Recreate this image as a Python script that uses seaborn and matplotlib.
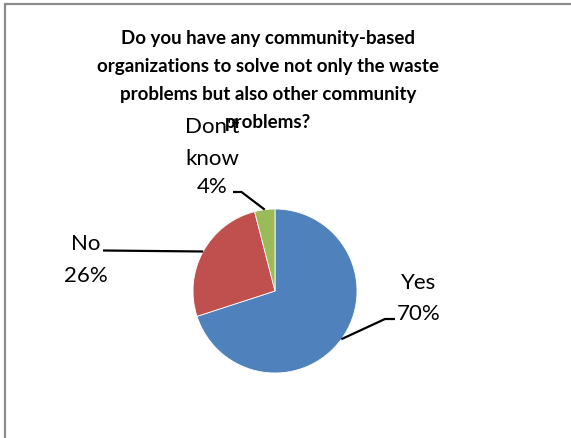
import matplotlib
matplotlib.use("Agg")
import matplotlib.pyplot as plt
import seaborn as sns
import numpy as np
from matplotlib.lines import Line2D

# ---- data ----
categories = ["Yes", "No", "Don't know"]
percents = [70, 26, 4]
colors = ["#4F81BD", "#C0504D", "#9BBB59"]
title_lines = ["Do you have any community-based",
               "organizations to solve not only the waste",
               "problems but also other community",
               "problems?"]

sns.set_theme(style="white")
plt.rcParams['font.family'] = ['Lato', 'DejaVu Sans']

W, H = 571, 439
fig = plt.figure(figsize=(W / 100, H / 100), dpi=100)
ax = fig.add_axes([0, 0, 1, 1])

cx, cy, r = 275, H - 292, 82
wedges, _ = ax.pie(percents, colors=sns.color_palette(colors), startangle=90,
                   counterclock=False, center=(cx, cy), radius=r,
                   wedgeprops=dict(edgecolor="white", linewidth=0.6))
ax.set_xlim(0, W)
ax.set_ylim(0, H)
ax.set_aspect("equal")
ax.axis("off")

# label layout (pixel positions measured from top): text center x, baselines, leader path
layout = {
    "Yes": dict(x=419, base=[289, 320], path=[(385, 320), (395, 320)]),
    "No": dict(x=86, base=[250, 282], path=[(103, 251.5)]),
    "Don't know": dict(x=212, base=[133, 165, 193], path=[(241.5, 193), (233, 193)]),
}
lab_fs = 16
for w, cat, p in zip(wedges, categories, percents):
    mid = np.deg2rad((w.theta1 + w.theta2) / 2)
    ex, ey = cx + r * np.cos(mid), cy + r * np.sin(mid)
    L = layout[cat]
    xs = [ex] + [px for px, py in L["path"]]
    ys = [ey] + [H - py for px, py in L["path"]]
    ax.plot(xs, ys, color="black", lw=1.6, solid_capstyle="butt")
    lines = cat.split() + [f"{p}%"]
    for txt, b in zip(lines, L["base"]):
        ax.text(L["x"], H - b, txt, ha="center", va="baseline",
                fontsize=lab_fs, color="black")

title_base = [44, 72, 100, 128]
for t, b in zip(title_lines, title_base):
    ax.text(268, H - b, t, ha="center", va="baseline", fontsize=13.5,
            fontweight="bold", color="black")

# chart frame (top and left edges visible)
fig.add_artist(Line2D([5 / W, 5 / W], [0, 1 - 5 / H], transform=fig.transFigure,
                      color="#8c8c8c", lw=1.6))
fig.add_artist(Line2D([5 / W, 1], [1 - 5 / H, 1 - 5 / H], transform=fig.transFigure,
                      color="#8c8c8c", lw=1.6))

fig.savefig("out.png", dpi=100, facecolor="white")
